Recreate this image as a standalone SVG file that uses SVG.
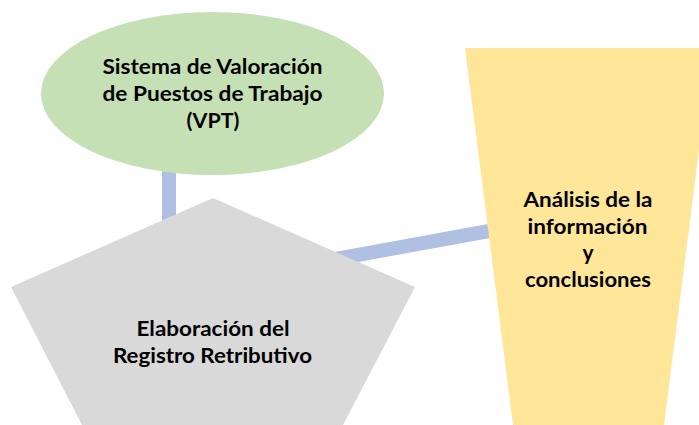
<svg xmlns="http://www.w3.org/2000/svg" width="699" height="425" viewBox="0 0 699 425">
<style>
.lbl{font-family:Lato,"Liberation Sans",sans-serif;font-weight:bold;font-size:21px;fill:#000;text-anchor:middle}
.conn{stroke:#B0C0E2;stroke-width:14;fill:none}
</style>
<rect width="699" height="425" fill="#fff"/>
<g id="connectors">
<line class="conn" x1="169" y1="160" x2="169" y2="240"/>
<line class="conn" x1="300" y1="265.5" x2="500" y2="229"/>
</g>
<g id="vpt">
<ellipse cx="212.5" cy="93.5" rx="171.5" ry="81.5" fill="#C5E0B4"/>
<text class="lbl" x="212.5" y="74" textLength="220" lengthAdjust="spacingAndGlyphs">Sistema de Valoración</text>
<text class="lbl" x="212.5" y="101" textLength="220" lengthAdjust="spacingAndGlyphs">de Puestos de Trabajo</text>
<text class="lbl" x="213" y="127.5" textLength="53" lengthAdjust="spacingAndGlyphs">(VPT)</text>
</g>
<g id="registro">
<polygon points="213,198 415,287 343,425 82,425 11,287" fill="#D9D9D9"/>
<text class="lbl" x="213" y="336" textLength="153" lengthAdjust="spacingAndGlyphs">Elaboración del</text>
<text class="lbl" x="212.5" y="363" textLength="199" lengthAdjust="spacingAndGlyphs">Registro Retributivo</text>
</g>
<g id="analisis">
<polygon points="465,48 712,48 664,425 513,425" fill="#FFE699"/>
<text class="lbl" x="588" y="207" textLength="129" lengthAdjust="spacingAndGlyphs">Análisis de la</text>
<text class="lbl" x="587.5" y="233.5" textLength="120" lengthAdjust="spacingAndGlyphs">información</text>
<text class="lbl" x="588" y="260">y</text>
<text class="lbl" x="588" y="286.5" textLength="126" lengthAdjust="spacingAndGlyphs">conclusiones</text>
</g>
</svg>
